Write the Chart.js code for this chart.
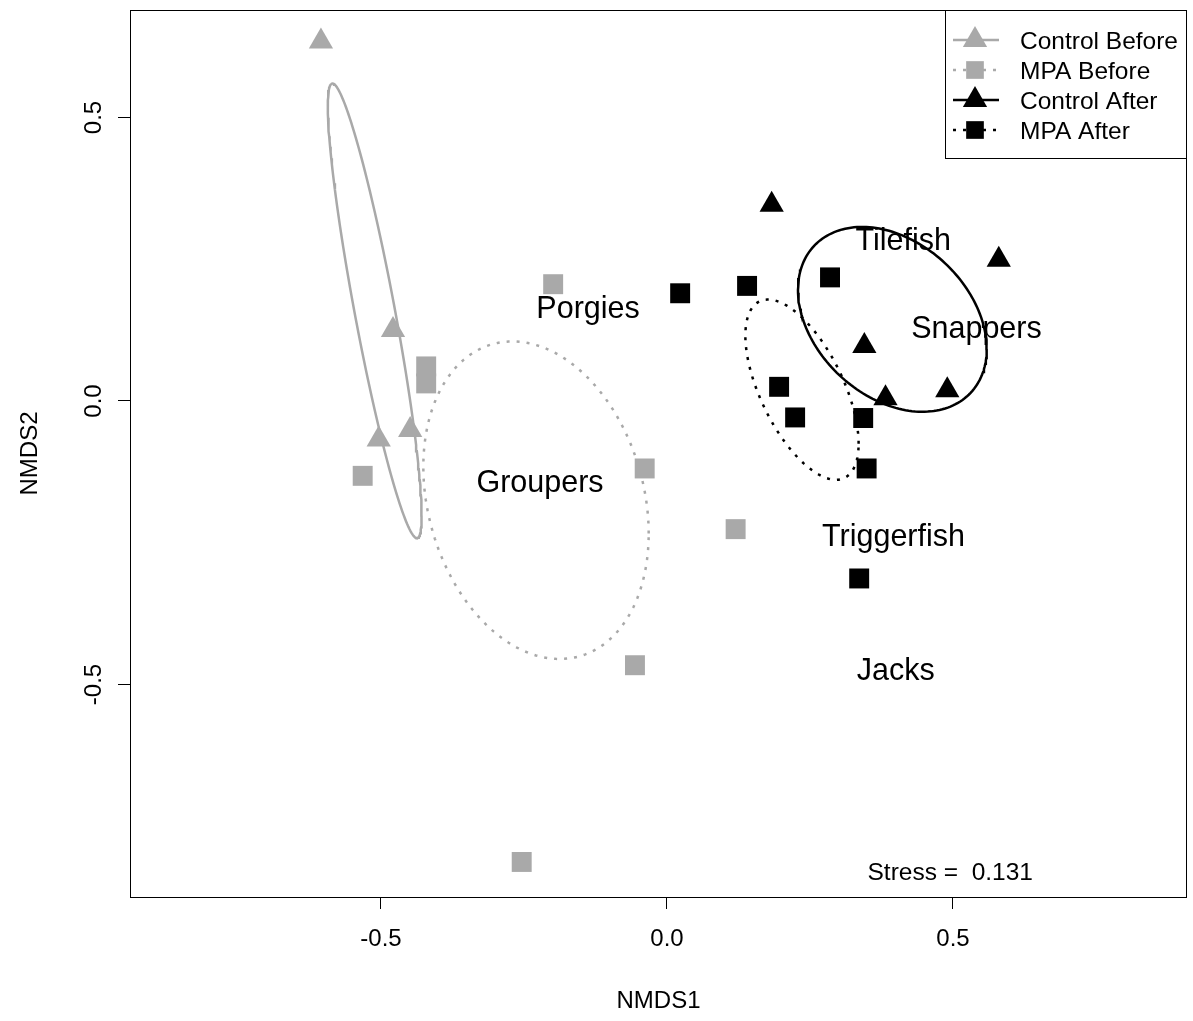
<!DOCTYPE html>
<html>
<head>
<meta charset="utf-8">
<script src="https://cdn.jsdelivr.net/npm/chart.js@4.4.1/dist/chart.umd.min.js"></script>
<style>
html,body{margin:0;padding:0;background:#fff;}
#wrap{width:1193px;height:1021px;}
</style>
</head>
<body>
<div id="wrap"><canvas id="myChart" width="1193" height="1021"></canvas></div>
<script>
// NMDS site scores
const control_before_x = [-0.605, -0.479, -0.504, -0.449]
const control_before_y = [0.634, 0.125, -0.068, -0.051]

const mpa_before_x = [-0.421, -0.421, -0.532, -0.199, -0.039, 0.120, -0.056, -0.254]
const mpa_before_y = [0.061, 0.031, -0.132, 0.206, -0.119, -0.226, -0.466, -0.813]

const control_after_x = [0.183, 0.580, 0.345, 0.382, 0.490]
const control_after_y = [0.346, 0.249, 0.097, 0.005, 0.019]

const mpa_after_x = [0.023, 0.140, 0.285, 0.196, 0.224, 0.343, 0.349, 0.336]
const mpa_after_y = [0.190, 0.203, 0.218, 0.025, -0.029, -0.030, -0.119, -0.313]

// ordiellipse: centre, sd along x / y, correlation
const ell_cx = [-0.511, -0.229, 0.394, 0.236]
const ell_cy = [0.159, -0.175, 0.144, 0.020]
const ell_sx = [0.082, 0.197, 0.165, 0.099]
const ell_sy = [0.401, 0.280, 0.163, 0.159]
const ell_r  = [-0.90, -0.21, -0.32, -0.60]

// species scores (text labels)
const species_names = ['Tilefish', 'Snappers', 'Porgies', 'Groupers', 'Triggerfish', 'Jacks']
const species_x = [0.413, 0.541, -0.138, -0.222, 0.396, 0.400]
const species_y = [0.284, 0.129, 0.164, -0.142, -0.238, -0.473]

const x_ticks = [-0.5, 0.0, 0.5]
const y_ticks = [-0.5, 0.0, 0.5]
const x_range = [-0.9388, 0.9091]
const y_range = [-0.8748, 0.6896]

const group_names = ['Control Before', 'MPA Before', 'Control After', 'MPA After']
const stress_value = 0.131

const GRAY = '#a9a9a9'
const FONT = "'Liberation Sans', Arial, sans-serif"

const toXY = (xs, ys) => xs.map((x, i) => ({x: x, y: ys[i]}))

const ellipse_points = (k) => {
  const pts = []
  const q = Math.sqrt(1 - ell_r[k] * ell_r[k])
  for (let d = 0; d <= 360; d += 2) {
    const t = d * Math.PI / 180
    pts.push({
      x: ell_cx[k] + ell_sx[k] * Math.cos(t),
      y: ell_cy[k] + ell_sy[k] * (ell_r[k] * Math.cos(t) + q * Math.sin(t))
    })
  }
  return pts
}

const styles = [
  {color: GRAY, shape: 'triangle', dash: []},
  {color: GRAY, shape: 'rect', dash: [3, 7]},
  {color: '#000', shape: 'triangle', dash: []},
  {color: '#000', shape: 'rect', dash: [3, 7]},
]
const point_sets = [
  toXY(control_before_x, control_before_y),
  toXY(mpa_before_x, mpa_before_y),
  toXY(control_after_x, control_after_y),
  toXY(mpa_after_x, mpa_after_y),
]

const datasets = []
point_sets.forEach((pts, k) => {
  datasets.push({
    label: group_names[k],
    data: pts,
    showLine: false,
    pointStyle: styles[k].shape,
    pointRadius: styles[k].shape === 'rect' ? 14.1 : 14,
    pointBackgroundColor: styles[k].color,
    pointBorderWidth: 0,
    pointBorderColor: styles[k].color,
  })
})
styles.forEach((st, k) => {
  datasets.push({
    label: 'ellipse ' + group_names[k],
    data: ellipse_points(k),
    showLine: true,
    pointRadius: 0,
    borderColor: st.color,
    borderWidth: 2.5,
    borderDash: st.dash,
    tension: 0,
    fill: false,
  })
})

const r_decor = {
  id: 'r_decor',
  afterDraw(chart) {
    const ctx = chart.ctx
    const a = chart.chartArea
    const xs = chart.scales.x
    const ys = chart.scales.y
    ctx.save()
    // plot box
    ctx.strokeStyle = '#000'
    ctx.lineWidth = 1
    ctx.strokeRect(a.left + 0.5, a.top + 0.5, a.right - a.left - 1, a.bottom - a.top)

    // y tick labels, rotated like R
    ctx.fillStyle = '#000'
    ctx.font = `24px ${FONT}`
    ctx.textAlign = 'center'
    ctx.textBaseline = 'middle'
    ys.ticks.forEach((t) => {
      const py = ys.getPixelForValue(t.value)
      ctx.save()
      ctx.translate(94, py)
      ctx.rotate(-Math.PI / 2)
      ctx.fillText(t.value.toFixed(1), 0, 0)
      ctx.restore()
    })

    // axis titles
    ctx.fillText('NMDS1', (a.left + a.right) / 2, 1001)
    ctx.save()
    ctx.translate(30, (a.top + a.bottom) / 2)
    ctx.rotate(-Math.PI / 2)
    ctx.fillText('NMDS2', 0, 0)
    ctx.restore()

    // species labels
    ctx.font = `30.5px ${FONT}`
    species_names.forEach((name, i) => {
      ctx.fillText(name, xs.getPixelForValue(species_x[i]), ys.getPixelForValue(species_y[i]) + 2)
    })

    // stress
    ctx.font = `24.5px ${FONT}`
    ctx.textAlign = 'right'
    ctx.fillText('Stress =  ' + stress_value.toFixed(3), 1033, 873)

    // legend
    const lx = 945, ly = a.top, lw = a.right - 945, lh = 148
    ctx.fillStyle = '#fff'
    ctx.fillRect(lx, ly, lw, lh)
    ctx.strokeStyle = '#000'
    ctx.lineWidth = 1
    ctx.strokeRect(lx + 0.5, ly + 0.5, lw - 1, lh)
    styles.forEach((st, k) => {
      const yy = 40 + k * 30
      ctx.save()
      ctx.strokeStyle = st.color
      ctx.lineWidth = 2.5
      ctx.setLineDash(st.dash)
      ctx.beginPath()
      ctx.moveTo(953, yy)
      ctx.lineTo(999, yy)
      ctx.stroke()
      ctx.restore()
      ctx.fillStyle = st.color
      Chart.helpers.drawPoint(ctx, {pointStyle: st.shape, radius: st.shape === 'rect' ? 12.5 : 14, rotation: 0, borderWidth: 0}, 975, yy)
      ctx.fillStyle = '#000'
      ctx.font = `24.5px ${FONT}`
      ctx.textAlign = 'left'
      ctx.fillText(group_names[k], 1020, yy + 2)
    })
    ctx.restore()
  }
}

new Chart(document.getElementById('myChart'), {
  type: 'scatter',
  data: {datasets: datasets},
  options: {
    responsive: false,
    animation: false,
    layout: {autoPadding: false, padding: {top: 10, right: 6, left: 0, bottom: 0}},
    plugins: {legend: {display: false}, tooltip: {enabled: false}},
    scales: {
      x: {
        type: 'linear',
        position: 'bottom',
        min: x_range[0],
        max: x_range[1],
        afterBuildTicks: (s) => { s.ticks = x_ticks.map(v => ({value: v})) },
        afterFit: (s) => { s.height = 124 },
        ticks: {
          color: '#000',
          font: {family: FONT, size: 24},
          padding: 16,
          minRotation: 0,
          maxRotation: 0,
          autoSkip: false,
          callback: (v) => Number(v).toFixed(1),
        },
        grid: {drawOnChartArea: false, drawTicks: true, tickLength: 12, color: '#000', lineWidth: 1},
        border: {display: false},
      },
      y: {
        type: 'linear',
        position: 'left',
        min: y_range[0],
        max: y_range[1],
        afterBuildTicks: (s) => { s.ticks = y_ticks.map(v => ({value: v})) },
        afterFit: (s) => { s.width = 130 },
        ticks: {display: false},
        grid: {drawOnChartArea: false, drawTicks: true, tickLength: 12, color: '#000', lineWidth: 1},
        border: {display: false},
      },
    },
  },
  plugins: [r_decor],
})
</script>
</body>
</html>
